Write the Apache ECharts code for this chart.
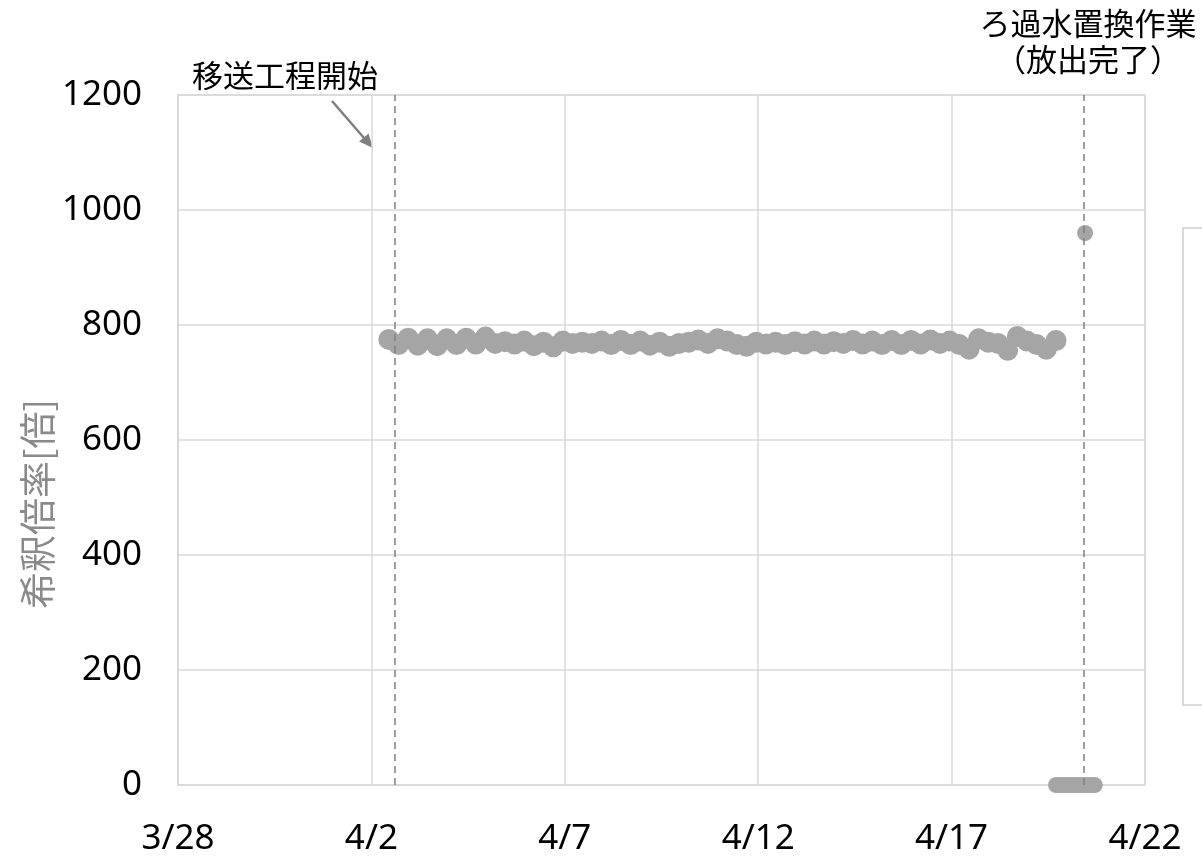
<!DOCTYPE html>
<html>
<head>
<meta charset="utf-8">
<script src="https://cdn.jsdelivr.net/npm/echarts@6/dist/echarts.min.js"></script>
<style>
html,body{margin:0;padding:0;background:#fff;}
#chart{width:1202px;height:857px;}
</style>
</head>
<body>
<div id="chart"></div>
<script>
// x axis: days since 3/28
const xTickLabels = ['3/28', '4/2', '4/7', '4/12', '4/17', '4/22'];
const yTicks = [0, 200, 400, 600, 800, 1000, 1200];

// dilution ratio during transfer (every 6 hours from day 5.45)
const transferStartDay = 5.45;
const transferStepDay = 0.25;
const transferValues = [
  775, 766, 777, 765, 776, 764, 776, 766, 777, 767,
  779, 768, 771, 767, 772, 764, 770, 762, 772, 768,
  770, 768, 772, 766, 773, 766, 772, 765, 770, 763,
  768, 770, 774, 768, 776, 772, 766, 763, 770, 767,
  770, 766, 771, 767, 772, 767, 771, 768, 773, 767,
  772, 766, 773, 766, 773, 767, 774, 768, 772, 766,
  758, 776, 770, 768, 756, 780, 772, 766, 758, 773
];

// filtered water replacement period
const replaceDays = [22.7, 22.8, 22.9, 23.0, 23.1, 23.2, 23.3, 23.4, 23.5, 23.6, 23.7];
const replaceValues = [0, 0, 0, 0, 0, 0, 0, 0, 0, 0, 0];
const peakDays = [23.45];
const peakValues = [960];

// event lines (days since 3/28)
const eventDays = [5.61, 23.42];
const eventLabels = ['移送工程開始', 'ろ過水置換作業\n（放出完了）'];

const transferData = transferValues.map((v, i) => [transferStartDay + transferStepDay * i, v]);
const replaceData = replaceDays.map((d, i) => [d, replaceValues[i]]);
const peakData = peakDays.map((d, i) => [d, peakValues[i]]);

const chart = echarts.init(document.getElementById('chart'));
const gridColor = '#d9d9d9';
const markColor = '#a5a5a5';
const cjk = '"Noto Sans CJK JP", "Noto Sans", sans-serif';

chart.setOption({
  animation: false,
  backgroundColor: '#fff',
  grid: {
    left: 178, right: 57, top: 95, bottom: 71,
    show: true, borderColor: gridColor, borderWidth: 1.5
  },
  xAxis: {
    type: 'value', min: 0, max: 25, interval: 5,
    axisLine: { show: true, lineStyle: { color: gridColor, width: 1.5 } },
    axisTick: { show: false },
    splitLine: { show: true, lineStyle: { color: gridColor, width: 1.5 } },
    axisLabel: {
      color: '#000', fontSize: 35, fontFamily: 'Noto Sans', margin: 37,
      formatter: v => xTickLabels[Math.round(v / 5)]
    }
  },
  yAxis: {
    type: 'value', min: yTicks[0], max: yTicks[yTicks.length - 1], interval: 200,
    axisLine: { show: true, lineStyle: { color: gridColor, width: 1.5 } },
    axisTick: { show: false },
    splitLine: { show: true, lineStyle: { color: gridColor, width: 1.5 } },
    axisLabel: { color: '#000', fontSize: 35, fontFamily: 'Noto Sans', margin: 36,
      formatter: v => String(v) }
  },
  series: [
    {
      type: 'scatter', data: transferData, symbolSize: 21,
      itemStyle: { color: markColor, opacity: 1 },
      markLine: {
        silent: true, symbol: 'none', label: { show: false },
        lineStyle: { color: '#7f7f7f', type: [7, 5], width: 1.5 },
        data: eventDays.map(d => ({ xAxis: d }))
      }
    },
    {
      type: 'scatter', data: replaceData, symbolSize: 16,
      itemStyle: { color: markColor, opacity: 1 }
    },
    {
      type: 'scatter', data: peakData, symbolSize: 16,
      itemStyle: { color: markColor, opacity: 1 }
    }
  ],
  graphic: [
    {
      type: 'text', x: 38, y: 504, rotation: Math.PI / 2,
      style: {
        text: '希釈倍率[倍]', fill: '#8a8a8a', font: '37px ' + cjk,
        align: 'center', verticalAlign: 'middle'
      }
    },
    {
      type: 'text', x: 285, y: 75,
      style: {
        text: eventLabels[0], fill: '#000', font: '31px ' + cjk,
        align: 'center', verticalAlign: 'middle'
      }
    },
    {
      type: 'text', x: 1088, y: 41,
      style: {
        text: eventLabels[1], fill: '#000', font: '31px ' + cjk,
        align: 'center', verticalAlign: 'middle', lineHeight: 36
      }
    },
    {
      type: 'line',
      shape: { x1: 332, y1: 101, x2: 364, y2: 138 },
      style: { stroke: '#7f7f7f', lineWidth: 2.5 }
    },
    {
      type: 'polygon',
      shape: { points: [[373, 148], [359, 141.5], [368.5, 133.5]] },
      style: { fill: '#7f7f7f' }
    },
    {
      type: 'rect',
      shape: { x: 1183, y: 228, width: 40, height: 477 },
      style: { fill: '#fff', stroke: gridColor, lineWidth: 2 }
    }
  ]
});
</script>
</body>
</html>
